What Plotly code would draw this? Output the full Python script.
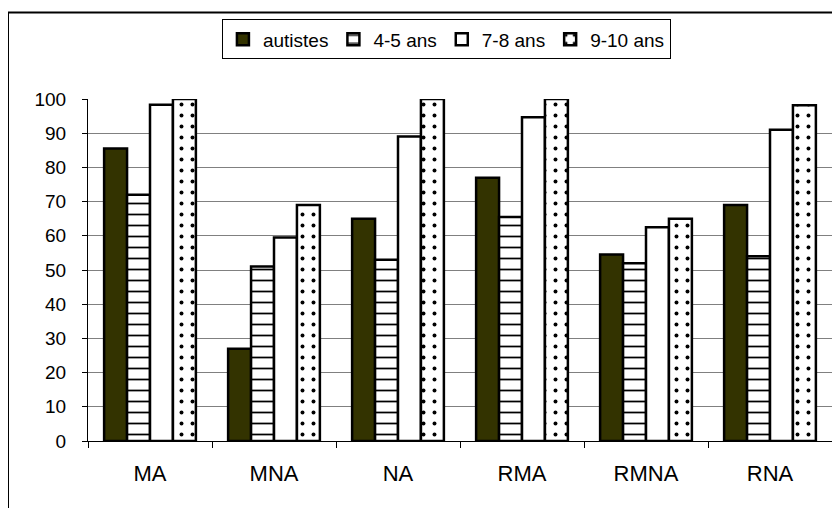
import plotly.graph_objects as go

categories = ["MA", "MNA", "NA", "RMA", "RMNA", "RNA"]
autistes = [85.5, 27, 65, 77, 54.5, 69]
ans_4_5 = [72, 51, 53, 65.5, 52, 54]
ans_7_8 = [98.3, 59.5, 89, 94.7, 62.5, 91]
ans_9_10 = [100, 69, 100, 100, 65, 98.2]
series_names = ["autistes", "4-5 ans", "7-8 ans", "9-10 ans"]

outline = dict(color="black", width=2.5)

fig = go.Figure()
fig.add_trace(go.Bar(x=categories, y=autistes, name=series_names[0],
                     marker=dict(color="#333300", line=outline)))
fig.add_trace(go.Bar(x=categories, y=ans_4_5, name=series_names[1],
                     marker=dict(color="white", line=outline,
                                 pattern=dict(shape="-", size=11, solidity=0.16,
                                              fgcolor="black", bgcolor="white",
                                              fgopacity=1))))
fig.add_trace(go.Bar(x=categories, y=ans_7_8, name=series_names[2],
                     marker=dict(color="white", line=outline)))
fig.add_trace(go.Bar(x=categories, y=ans_9_10, name=series_names[3],
                     marker=dict(color="white", line=outline,
                                 pattern=dict(shape=".", size=11, solidity=0.1,
                                              fgcolor="black", bgcolor="white",
                                              fgopacity=1))))

# page has an 8px body offset; plot area spans screen x 88..832, y 97..441
fig.update_layout(
    width=840, height=508,
    margin=dict(l=80, r=16, t=89, b=75),
    paper_bgcolor="white", plot_bgcolor="white",
    barmode="group", bargap=0.26, bargroupgap=0,
    font=dict(family="Liberation Sans, Arial, sans-serif", size=21, color="black"),
    showlegend=True,
    legend=dict(orientation="h", x=0.18, y=1.2326, xanchor="left", yanchor="top",
                bordercolor="black", borderwidth=1, font=dict(size=19),
                itemwidth=30, traceorder="normal"),
    xaxis=dict(showline=True, linecolor="black", linewidth=1,
               ticks="outside", ticklen=6, tickcolor="black", tickson="boundaries",
               ticklabelstandoff=13, tickfont=dict(size=22),
               showgrid=False, range=[-0.5, 5.5]),
    yaxis=dict(range=[0, 100], dtick=10, showline=True, linecolor="black", linewidth=1,
               ticks="outside", ticklen=5, tickcolor="black", tickfont=dict(size=19),
               ticklabelstandoff=12,
               showgrid=True, gridcolor="#808080", gridwidth=1, zeroline=False),
    shapes=[dict(type="rect", xref="paper", yref="paper",
                 x0=-80 / 744, x1=1.2,
                 y0=-0.6, y1=431 / 344,
                 line=dict(color="black", width=2), fillcolor="rgba(0,0,0,0)",
                 layer="below")],
)

fig.write_html("out.html")
